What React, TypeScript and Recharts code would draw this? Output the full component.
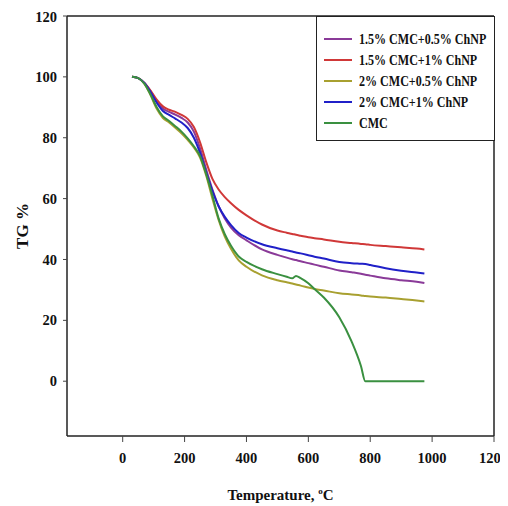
import React from 'react';
import { LineChart, Line, XAxis, YAxis, ReferenceLine, Legend, Label } from 'recharts';

const temperatures = [30, 50, 70, 90, 110, 130, 150, 170, 190, 210, 230, 250, 270, 290, 310, 330, 350, 375, 400, 450, 500, 530, 548, 560, 575, 600, 620, 650, 700, 740, 770, 784, 800, 850, 900, 950, 975];

const cmc15chnp05 = [100, 99.6, 98, 95.3, 92, 89.6, 88.5, 87.6, 86.5, 85, 82, 76.5, 69.5, 63, 57.5, 53.5, 50.5, 48, 46.3, 43.3, 41.5, 40.6, 40.1, 39.8, 39.4, 38.8, 38.3, 37.6, 36.4, 35.8, 35.3, 35, 34.7, 33.8, 33.2, 32.7, 32.3];
const cmc15chnp1 = [100, 99.6, 98, 95.5, 92.5, 90.3, 89.2, 88.5, 87.5, 86.2, 83.5, 78.5, 72, 66.5, 63, 60.5, 58.5, 56.3, 54.5, 51.5, 49.5, 48.8, 48.4, 48.1, 47.8, 47.3, 47, 46.6, 45.8, 45.4, 45.1, 45, 44.8, 44.4, 44, 43.6, 43.3];
const cmc2chnp05 = [100, 99.6, 97.8, 94, 89.5, 86.5, 85, 83.3, 81.5, 79.3, 76.8, 73.5, 67.5, 60, 53, 47.5, 43.5, 39.7, 37.6, 34.8, 33.2, 32.5, 32.1, 31.8, 31.4, 30.8, 30.3, 29.8, 28.9, 28.5, 28.2, 28, 27.8, 27.5, 27, 26.5, 26.2];
const cmc2chnp1 = [100, 99.6, 98, 95, 91.5, 88.8, 87.5, 86.3, 85, 83.2, 80, 75, 68.5, 62.5, 57.5, 54, 51.3, 48.7, 47.2, 45, 43.7, 43, 42.6, 42.3, 42, 41.4, 40.9, 40.3, 39.2, 38.8, 38.6, 38.5, 38.2, 37.1, 36.3, 35.7, 35.4];
const cmcOnly = [100, 99.6, 97.8, 94.2, 90, 87, 85.5, 83.8, 82, 79.8, 77.2, 74, 68, 61, 53.5, 48.3, 44.5, 41, 39.2, 36.8, 35.2, 34.3, 33.8, 34.6, 33.9, 32.2, 30.3, 27.5, 21, 13, 5, 0, 0, 0, 0, 0, 0];

const seriesNames = ['1.5% CMC+0.5% ChNP', '1.5% CMC+1% ChNP', '2% CMC+0.5% ChNP', '2% CMC+1% ChNP', 'CMC'];
const seriesKeys = ['s1', 's2', 's3', 's4', 's5'];
const seriesColors = ['#8a3a98', '#d03838', '#a8a030', '#2020c8', '#3a9040'];
const seriesValues = [cmc15chnp05, cmc15chnp1, cmc2chnp05, cmc2chnp1, cmcOnly];

const xTicks = [0, 200, 400, 600, 800, 1000, 1200];
const yTicks = [0, 20, 40, 60, 80, 100, 120];

const data = temperatures.map((t, i) => {
  const row: Record<string, number> = { t };
  seriesKeys.forEach((k, j) => {
    row[k] = seriesValues[j][i];
  });
  return row;
});

const FONT = '"Liberation Serif", "Times New Roman", serif';
const tickStyle = { fontFamily: FONT, fontWeight: 700, fontSize: 14.5, fill: '#111' };

const XTitle = (props: any) => {
  const vb = props.viewBox || { x: 0, y: 0, width: 0, height: 0 };
  const cx = vb.x + vb.width / 2;
  const y = vb.y + 64;
  return (
    <text x={cx} y={y} textAnchor="middle" fontFamily={FONT} fontWeight={700} fontSize={15} fill="#111">
      Temperature,{' '}
      <tspan dy={-6} fontSize={9}>o</tspan>
      <tspan dy={6}>C</tspan>
    </text>
  );
};

const YTitle = (props: any) => {
  const vb = props.viewBox || { x: 0, y: 0, width: 0, height: 0 };
  const x = vb.x + 5;
  const cy = vb.y + vb.height / 2;
  return (
    <text
      x={x}
      y={cy}
      transform={`rotate(-90, ${x}, ${cy})`}
      textAnchor="middle"
      dominantBaseline="central"
      fontFamily={FONT}
      fontWeight={700}
      fontSize={17}
      fill="#111"
    >
      TG %
    </text>
  );
};

const LegendBox = () => (
  <div
    style={{
      width: 179,
      height: 125,
      boxSizing: 'border-box',
      border: '1.2px solid #222',
      background: '#fff',
      paddingTop: 11,
    }}
  >
    {seriesNames.map((name, i) => (
      <div key={name} style={{ height: 21, display: 'flex', alignItems: 'center', whiteSpace: 'nowrap' }}>
        <div style={{ marginLeft: 7, width: 28, height: 2, flexShrink: 0, background: seriesColors[i] }} />
        <div style={{ marginLeft: 7, width: 130, flexShrink: 0, overflow: 'visible' }}>
          <span
            style={{
              fontFamily: FONT,
              fontWeight: 700,
              fontSize: 14,
              color: '#111',
              whiteSpace: 'nowrap',
              display: 'inline-block',
              transform: 'scaleX(0.86)',
              transformOrigin: 'left center',
            }}
          >
            {name}
          </span>
        </div>
      </div>
    ))}
  </div>
);

export default function App() {
  return (
    <LineChart width={500} height={498} data={data} margin={{ top: 8, right: 14, left: 9, bottom: 0 }}>
      <XAxis
        dataKey="t"
        type="number"
        domain={[-180, 1200]}
        ticks={xTicks}
        allowDataOverflow
        height={70}
        tick={tickStyle}
        tickSize={6}
        tickMargin={11}
        axisLine={{ stroke: '#222', strokeWidth: 1.5 }}
        tickLine={{ stroke: '#444' }}
      >
        <Label content={<XTitle />} />
      </XAxis>
      <YAxis
        type="number"
        domain={[-18, 120]}
        ticks={yTicks}
        allowDataOverflow
        width={50}
        tick={tickStyle}
        tickSize={4}
        tickMargin={6}
        axisLine={{ stroke: '#222', strokeWidth: 1.5 }}
        tickLine={{ stroke: '#444' }}
      >
        <Label content={<YTitle />} />
      </YAxis>
      <ReferenceLine y={120} stroke="#222" strokeWidth={1.5} />
      <ReferenceLine x={1200} stroke="#222" strokeWidth={1.5} />
      {seriesKeys.map((k, i) => (
        <Line
          key={k}
          dataKey={k}
          name={seriesNames[i]}
          type="monotone"
          stroke={seriesColors[i]}
          strokeWidth={2}
          dot={false}
          isAnimationActive={false}
        />
      ))}
      <Legend
        layout="vertical"
        align="center"
        verticalAlign="middle"
        content={<LegendBox />}
        wrapperStyle={{ position: 'absolute', left: 308, top: 8, width: 179, height: 125 }}
      />
    </LineChart>
  );
}
